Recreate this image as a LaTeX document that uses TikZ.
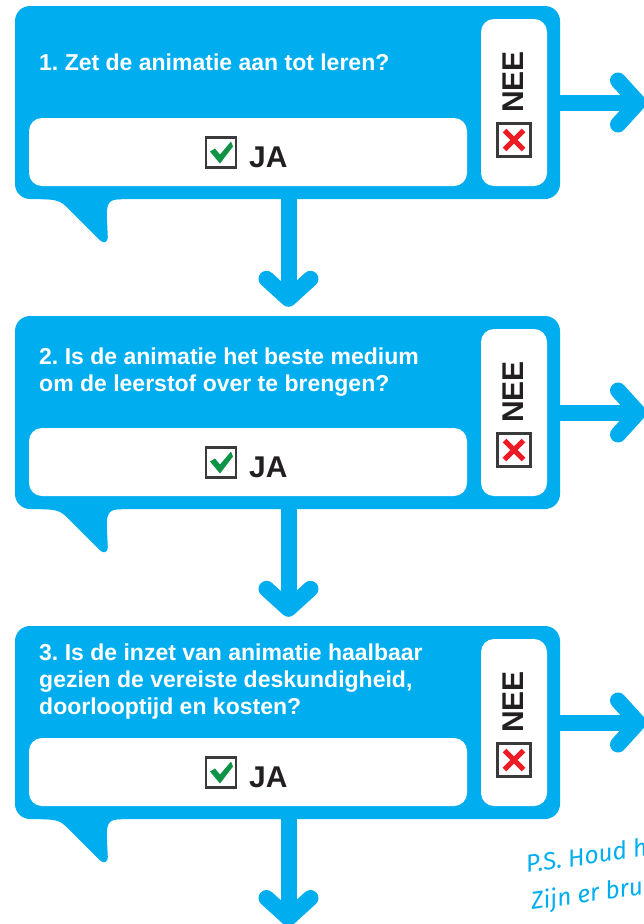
\documentclass[tikz,border=0pt]{standalone}
\usepackage{fontspec}
\setmainfont{Liberation Sans}
\newfontfamily\handfont{Fira Sans}
\usetikzlibrary{arrows.meta}
\definecolor{flowblue}{HTML}{00AEEF}
\definecolor{okgreen}{HTML}{0E9347}
\definecolor{nored}{HTML}{ED1C24}
\definecolor{boxgray}{HTML}{3A3A3A}
\definecolor{inkblack}{HTML}{231F20}
\frenchspacing

\begin{document}
\begin{tikzpicture}[x=1pt,y=-1pt,
    bubble/.style={fill=flowblue, rounded corners=15pt, minimum width=545pt, minimum height=193pt, inner sep=0pt},
    jabox/.style={fill=white, rounded corners=13pt, minimum width=438pt, minimum height=68pt, inner sep=0pt},
    neebox/.style={fill=white, rounded corners=13pt, minimum width=66pt, minimum height=167pt, inner sep=0pt},
    question/.style={anchor=west, align=left, text=white, font=\fontsize{23}{27}\selectfont\bfseries, inner sep=0pt},
    answer/.style={text=inkblack, font=\fontsize{30}{30}\selectfont\bfseries, inner sep=0pt},
    tickbox/.style={draw=boxgray, line width=2.5pt, fill=white, minimum size=30pt, inner sep=0pt},
    crossbox/.style={draw=boxgray, line width=2.5pt, fill=white, minimum size=33pt, inner sep=0pt},
    flow/.style={draw=flowblue, line width=16pt, -{Straight Barb[length=20pt, width=44pt, round]}},
    handtext/.style={text=flowblue, font=\handfont\itshape\fontsize{24.5}{24.5}\selectfont, inner sep=0pt, rotate=8, anchor=base west},
  ]
    \useasboundingbox (0,0) rectangle (644,924);
    \clip (0,0) rectangle (644,924);

    % question 1
    \node[bubble] (q1) at (287.5,102.5) {};
    \fill[flowblue, shift={(q1.south west)}] (25,-10) -- (25,0) .. controls (45,0) and (47,3) .. (55,11)
        -- (85,41) .. controls (89,45) and (93,43) .. (93,38) -- (92,16) .. controls (92,3) and (95,0) .. (107,0) -- (107,-10) -- cycle;
    \node[jabox] (ja1) at (248,152) {};
    \node[neebox] (nee1) at (514,102.5) {};
    \node[question] (t1) at (39,62) {1. Zet de animatie aan tot leren?};
    \node[tickbox] (ck1) at (221,152.5) {};
    \fill[okgreen, shift={(ck1.center)}] (-11,-1) -- (-6,-4) -- (-1,2) -- (10,-11) -- (12,-6) -- (-1,11) -- cycle;
    \node[answer, anchor=base west] (a1) at (249,167) {JA};
    \node[answer, rotate=90] (n1) at (513,82) {NEE};
    \node[crossbox] (x1) at (514,140) {};
    \draw[nored, line width=5pt, shift={(x1.center)}] (-9.5,-9.5) -- (9.5,9.5) (-9.5,9.5) -- (9.5,-9.5);
    \coordinate (r1) at (646,102.5);

    % question 2
    \node[bubble] (q2) at (287.5,412.5) {};
    \fill[flowblue, shift={(q2.south west)}] (25,-10) -- (25,0) .. controls (45,0) and (47,3) .. (55,11)
        -- (85,41) .. controls (89,45) and (93,43) .. (93,38) -- (92,16) .. controls (92,3) and (95,0) .. (107,0) -- (107,-10) -- cycle;
    \node[jabox] (ja2) at (248,462) {};
    \node[neebox] (nee2) at (514,412.5) {};
    \node[question] (t2) at (39,372) {2. Is de animatie het beste medium\\om de leerstof over te brengen?};
    \node[tickbox] (ck2) at (221,462.5) {};
    \fill[okgreen, shift={(ck2.center)}] (-11,-1) -- (-6,-4) -- (-1,2) -- (10,-11) -- (12,-6) -- (-1,11) -- cycle;
    \node[answer, anchor=base west] (a2) at (249,477) {JA};
    \node[answer, rotate=90] (n2) at (513,392) {NEE};
    \node[crossbox] (x2) at (514,450) {};
    \draw[nored, line width=5pt, shift={(x2.center)}] (-9.5,-9.5) -- (9.5,9.5) (-9.5,9.5) -- (9.5,-9.5);
    \coordinate (r2) at (646,412.5);

    % question 3
    \node[bubble] (q3) at (287.5,722.5) {};
    \fill[flowblue, shift={(q3.south west)}] (25,-10) -- (25,0) .. controls (45,0) and (47,3) .. (55,11)
        -- (85,41) .. controls (89,45) and (93,43) .. (93,38) -- (92,16) .. controls (92,3) and (95,0) .. (107,0) -- (107,-10) -- cycle;
    \node[jabox] (ja3) at (248,772) {};
    \node[neebox] (nee3) at (514,722.5) {};
    \node[question] (t3) at (39,682) {3. Is de inzet van animatie haalbaar\\gezien de vereiste deskundigheid,\\doorlooptijd en kosten?};
    \node[tickbox] (ck3) at (221,772.5) {};
    \fill[okgreen, shift={(ck3.center)}] (-11,-1) -- (-6,-4) -- (-1,2) -- (10,-11) -- (12,-6) -- (-1,11) -- cycle;
    \node[answer, anchor=base west] (a3) at (249,787) {JA};
    \node[answer, rotate=90] (n3) at (513,702) {NEE};
    \node[crossbox] (x3) at (514,760) {};
    \draw[nored, line width=5pt, shift={(x3.center)}] (-9.5,-9.5) -- (9.5,9.5) (-9.5,9.5) -- (9.5,-9.5);
    \coordinate (r3) at (646,722.5);
    \coordinate (d3) at (288.5,926);

    % arrows
    \draw[flow, shorten >=9pt] ([xshift=1pt]q1.south) -- ([xshift=1pt]q2.north);
    \draw[flow, shorten >=9pt] ([xshift=1pt]q2.south) -- ([xshift=1pt]q3.north);
    \draw[flow] ([xshift=1pt]q3.south) -- (d3);
    \draw[flow] (q1.east) -- (r1);
    \draw[flow] (q2.east) -- (r2);
    \draw[flow] (q3.east) -- (r3);

    % note
    \node[handtext] (ps1) at (527,873) {P.S. Houd h};
    \node[handtext] (ps2) at (532,910) {Zijn er brui};
\end{tikzpicture}
\end{document}
